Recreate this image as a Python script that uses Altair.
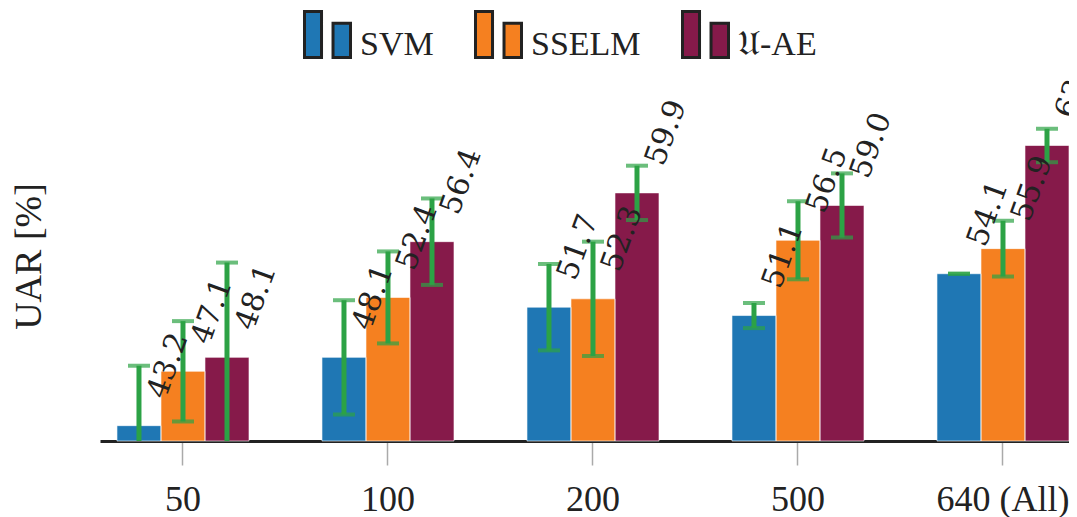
import altair as alt
import pandas as pd

GROUPS = ["50", "100", "200", "500", "640 (All)"]
SERIES = ["SVM", "SSELM", "𝔘-AE"]
COLORS = ["#1f77b4", "#f58020", "#861a4a"]

SVM = [43.2, 48.1, 51.7, 51.1, 54.1]
SSELM = [47.1, 52.4, 52.3, 56.5, 55.9]
UAE = [48.1, 56.4, 59.9, 59.0, 63.3]

SVM_ERR = [4.3, 4.1, 3.1, 0.9, 0.0]
SSELM_ERR = [3.6, 3.3, 4.1, 2.8, 2.0]
UAE_ERR = [6.8, 3.1, 1.95, 2.3, 1.2]

Y_MIN, Y_MAX = 42.1, 68.5

rows = []
for s, vals, errs in zip(SERIES, [SVM, SSELM, UAE], [SVM_ERR, SSELM_ERR, UAE_ERR]):
    for g, v, e in zip(GROUPS, vals, errs):
        rows.append({"group": g, "series": s, "value": v, "lo": v - e, "hi": v + e})
df = pd.DataFrame(rows)

SERIF = "Liberation Serif"
INK = "#222222"
GREEN = "#2ca245"

x_enc = alt.X(
    "group:N",
    sort=GROUPS,
    scale=alt.Scale(paddingInner=0.356, paddingOuter=0.0414, align=1.0),
    axis=alt.Axis(
        title=None, labelAngle=0, labelFont=SERIF, labelFontSize=36, labelColor=INK,
        labelPadding=17, tickSize=24, tickColor="#aaaaaa", tickWidth=1.5,
        domainColor=INK, domainWidth=3,
    ),
)
xo_enc = alt.XOffset("series:N", sort=SERIES, scale=alt.Scale(paddingInner=0, paddingOuter=0))
y_scale = alt.Scale(domain=[Y_MIN, Y_MAX], zero=False, nice=False)

LEG_PATH = "M-1,-1.45L-0.26,-1.45L-0.26,0.55L-1,0.55Z M0.24,-0.94L1,-0.94L1,0.55L0.24,0.55Z"

base = alt.Chart(df)

bars = base.mark_bar().encode(
    x=x_enc,
    xOffset=xo_enc,
    y=alt.Y(
        "value:Q",
        scale=y_scale,
        axis=alt.Axis(
            title="UAR [%]", labels=False, ticks=False, domain=False, grid=False,
            titleFont=SERIF, titleFontSize=38, titleFontWeight="normal", titleColor=INK,
            titleAngle=270, titleX=-60, titleY=183, titleAlign="center",
            titleBaseline="alphabetic",
        ),
    ),
    y2=alt.datum(Y_MIN),
    color=alt.Color(
        "series:N",
        sort=SERIES,
        scale=alt.Scale(domain=SERIES, range=COLORS),
        legend=alt.Legend(
            title=None, orient="none", legendX=203, legendY=-53, direction="horizontal",
            symbolType=LEG_PATH, symbolSize=2116, symbolStrokeColor=INK,
            symbolStrokeWidth=3, symbolOpacity=1, labelFont=SERIF, labelFontSize=34,
            labelColor=INK, labelOffset=8, columnPadding=35, padding=0,
        ),
    ),
)

outlines = base.mark_bar(filled=False, stroke="#ffffff", strokeWidth=1, strokeOpacity=0.6).encode(
    x=x_enc, xOffset=xo_enc, y=alt.Y("value:Q", scale=y_scale), y2=alt.datum(Y_MIN)
)

rules = base.mark_rule(color=GREEN, strokeWidth=5, clip=True).encode(
    x=x_enc, xOffset=xo_enc, y=alt.Y("lo:Q", scale=y_scale), y2="hi:Q"
)
caps_hi = base.mark_tick(color=GREEN, orient="horizontal", size=22, thickness=4, clip=True).encode(
    x=x_enc, xOffset=xo_enc, y=alt.Y("hi:Q", scale=y_scale)
)
caps_lo = base.mark_tick(color=GREEN, orient="horizontal", size=22, thickness=4, clip=True).encode(
    x=x_enc, xOffset=xo_enc, y=alt.Y("lo:Q", scale=y_scale)
)
labels = base.mark_text(
    angle=290, align="left", baseline="middle", dx=33, dy=7,
    font="DejaVu Serif", fontSize=30, color=INK,
).encode(
    x=x_enc, xOffset=xo_enc, y=alt.Y("value:Q", scale=y_scale),
    text=alt.Text("value:Q", format=".1f"),
)

chart = (
    alt.layer(bars, outlines, rules, caps_hi, caps_lo, labels)
    .properties(
        width=969, height=368,
        autosize=alt.AutoSizeParams(type="none"),
        padding={"left": 92, "top": 65, "right": 0, "bottom": 76},
    )
    .configure(font=SERIF)
    .configure_view(stroke=None)
)

chart.save("out.html", embed_options={"renderer": "svg", "actions": False})
